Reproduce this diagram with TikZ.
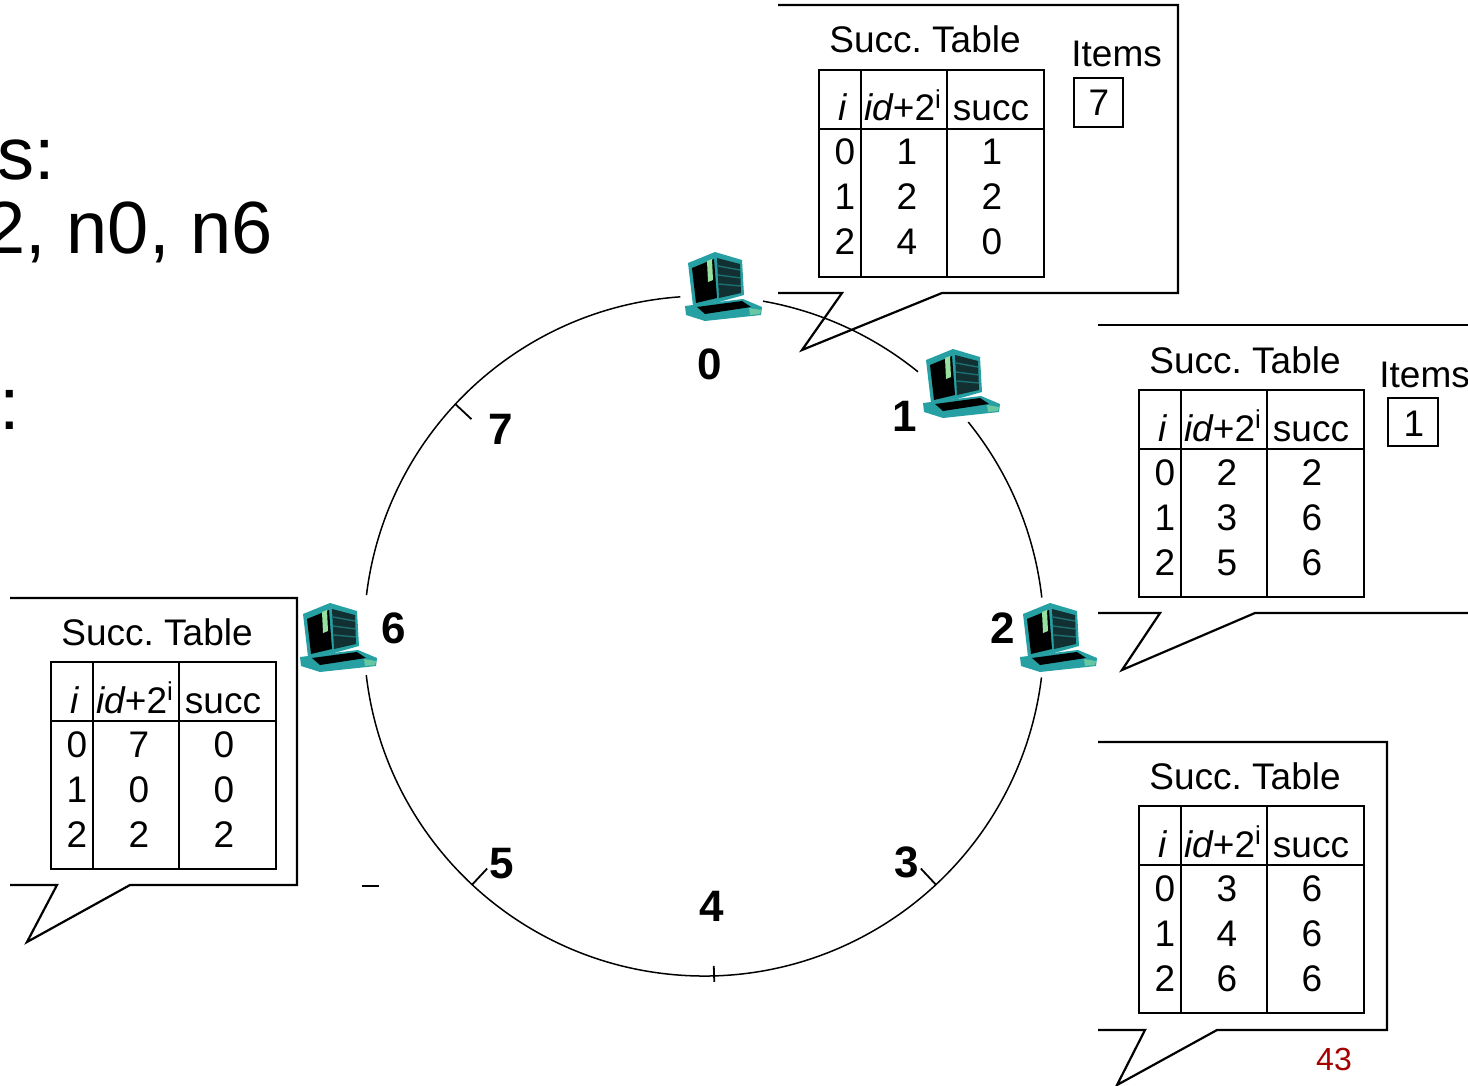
\documentclass[tikz,border=0pt]{standalone}
\usepackage{fontspec}
\setmainfont{Liberation Sans}
\usetikzlibrary{calc}

\definecolor{pcteal}{RGB}{38,160,162}
\definecolor{pcdark}{RGB}{18,48,50}
\definecolor{pcgreen}{RGB}{150,225,160}
\definecolor{pagered}{RGB}{165,0,0}

\tikzset{
  ring/.style={line width=0.75pt},
  ringtick/.style={line width=0.9pt},
  balloon/.style={line width=1.1pt, line join=miter},
  tabline/.style={line width=1.3pt},
  celltext/.style={inner sep=0pt, anchor=base, font=\fontsize{18.5}{22}\selectfont},
  ringlabel/.style={inner sep=0pt, font=\fontsize{22}{26}\selectfont\bfseries},
  slidetext/.style={inner sep=0pt, anchor=base east, font=\fontsize{37}{44}\selectfont},
  pc/.pic={
    % monitor silhouette
    \fill[pcteal] (3,14) -- (30,3) -- (57,11) -- (59,46) -- (34,53) -- (8,57) -- cycle;
    % screen face
    \fill[black] (7,19) -- (29,10) -- (32,49) -- (11,54) -- cycle;
    \fill[pcgreen] (22,12) -- (27,10) -- (28,31) -- (23,33) -- cycle;
    % side face with vents
    \fill[pcdark] (32,9) -- (55,15) -- (56,44) -- (34,49) -- cycle;
    \draw[pcteal!70!black, line width=0.7pt] (33,17) -- (55,21) (33,26) -- (56,29) (34,35) -- (56,37);
    % keyboard base
    \fill[pcteal] (0,57) -- (58,50) -- (77,58) -- (76,66) -- (20,72) -- (1,66) -- cycle;
    \fill[black] (12,58) -- (57,52) -- (66,58) -- (20,65) -- cycle;
    \fill[pcgreen!60!pcteal] (64,59) -- (76,61) -- (75,65) -- (65,66) -- cycle;
  }
}

% successor table: #1,#2 top-left corner, #3-#5 id+2^i column, #6-#8 succ column, #9 name prefix
\newcommand\succtab[9]{%
  \begin{scope}[shift={(#1,#2)}, name prefix=#9-]
    \draw[tabline] (0,0) rectangle (225,207);
    \draw[tabline] (42,0) -- (42,207) (128,0) -- (128,207) (0,59) -- (225,59);
    \node[celltext] (title) at (106,-17) {Succ.\ Table};
    \node[celltext] (hi)   at (24,51)  {\itshape i};
    \node[celltext] (hid)  at (84,51)  {\itshape id\upshape+2\textsuperscript{i}};
    \node[celltext] (hsu)  at (172,51) {succ};
    \node[celltext] (i0) at (26,95)  {0};
    \node[celltext] (i1) at (26,140) {1};
    \node[celltext] (i2) at (26,185) {2};
    \node[celltext] (a0) at (88,95)  {#3};
    \node[celltext] (a1) at (88,140) {#4};
    \node[celltext] (a2) at (88,185) {#5};
    \node[celltext] (s0) at (173,95)  {#6};
    \node[celltext] (s1) at (173,140) {#7};
    \node[celltext] (s2) at (173,185) {#8};
  \end{scope}}

\begin{document}
\begin{tikzpicture}[x=0.5pt, y=-0.5pt]
  \useasboundingbox (0,0) rectangle (1468,1086);
  \clip (0,0) rectangle (1468,1086);

  % slide text on the left
  \node[slidetext] (line1) at (55,180)  {s:};
  \node[slidetext] (line2) at (273,253) {2, n0, n6};
  \node[slidetext] (line3) at (20,429)  {:};

  % the identifier ring
  \coordinate (c) at (704,636);
  \draw[ring] (c) ++(280:340) arc[start angle=280, end angle=309, radius=340];
  \draw[ring] (c) ++(321:340) arc[start angle=321, end angle=353.5, radius=340];
  \draw[ring] (c) ++(7:340) arc[start angle=7, end angle=173.4, radius=340];
  \draw[ring] (c) ++(186.9:340) arc[start angle=186.9, end angle=266, radius=340];

  % ticks for the empty identifiers
  \draw[ringtick] ($(c)+(223:340)$) -- ($(c)+(223:318)$);
  \draw[ringtick] ($(c)+(133:340)$) -- ($(c)+(133:318)$);
  \draw[ringtick] ($(c)+(47:340)$) -- ($(c)+(47:318)$);
  \draw[ringtick] ($(c)+(88.3:330)$) -- ($(c)+(88.3:346)$);

  % identifier labels
  \node[ringlabel] (l0) at (710,364) {0};
  \node[ringlabel] (l1) at (905,416) {1};
  \node[ringlabel] (l2) at (1003,628) {2};
  \node[ringlabel] (l3) at (907,862) {3};
  \node[ringlabel] (l4) at (712,906) {4};
  \node[ringlabel] (l5) at (502,864) {5};
  \node[ringlabel] (l6) at (394,628) {6};
  \node[ringlabel] (l7) at (501,429) {7};

  % nodes on the ring
  \pic (pc0) at (685,249) {pc};
  \pic (pc1) at (923,346) {pc};
  \pic (pc2) at (1020,600) {pc};
  \pic (pc6) at (300,600) {pc};

  % callout balloons
  \draw[balloon] (778,5) -- (1178,5) -- (1178,293) -- (942,293) -- (802,350) -- (842,293) -- (778,293);
  \draw[balloon] (1098,325) -- (1475,325);
  \draw[balloon] (1098,613) -- (1160,613) -- (1122,670) -- (1255,613) -- (1475,613);
  \draw[balloon] (1098,742) -- (1387,742) -- (1387,1030) -- (1217,1030) -- (1117,1085) -- (1145,1030) -- (1098,1030);
  \draw[balloon] (10,598) -- (297,598) -- (297,885) -- (130,885) -- (27,942) -- (57,885) -- (10,885);

  % successor tables
  \succtab{819}{70}{1}{2}{4}{1}{2}{0}{t0}
  \succtab{1139}{390}{2}{3}{5}{2}{6}{6}{t1}
  \succtab{1139}{806}{3}{4}{6}{6}{6}{6}{t2}
  \succtab{51}{662}{7}{0}{2}{0}{0}{2}{t6}

  % stored items
  \node[celltext, anchor=base west] (items0) at (1071,67) {Items};
  \draw[line width=1pt] (1074,78) rectangle (1123,127);
  \node[celltext] (item7) at (1099,116) {7};
  \node[celltext, anchor=base west] (items1) at (1379,387) {Items};
  \draw[line width=1pt] (1388,398) rectangle (1438,446);
  \node[celltext] (item1) at (1414,436) {1};

  % stray dash and page number
  \draw[line width=1.4pt] (362,886) -- (379,886);
  \node[inner sep=0pt, anchor=base, text=pagered, font=\fontsize{16}{19}\selectfont] (page) at (1334,1070) {43};
\end{tikzpicture}
\end{document}
